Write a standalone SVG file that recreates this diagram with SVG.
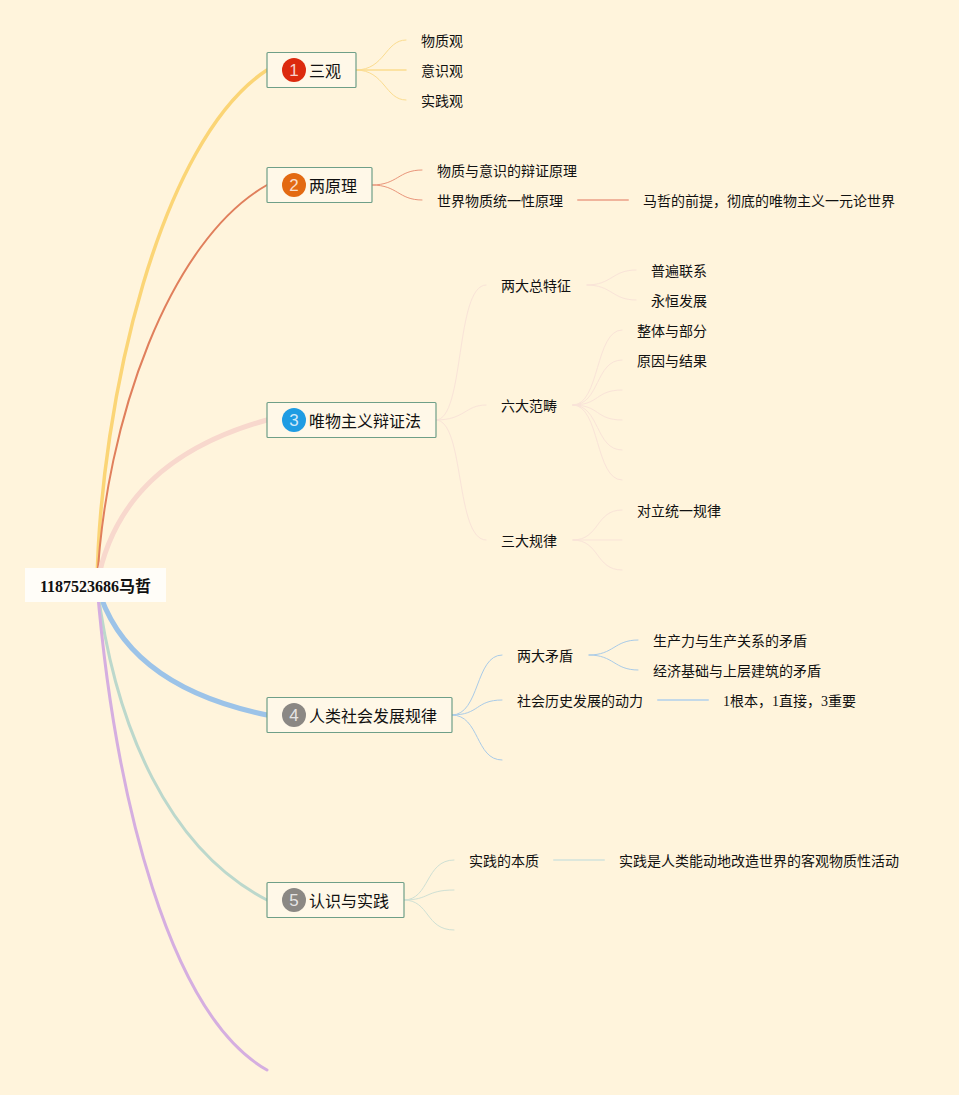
<svg xmlns="http://www.w3.org/2000/svg" width="959" height="1095" viewBox="0 0 959 1095">
<style>
text{font-family:"Liberation Serif","Noto Sans CJK SC",serif;fill:#111}
.l{font-size:14px}
.t{font-size:16px}
.r{font-size:16px;font-weight:700}
.n{fill:#fff8e8;stroke:#6f9f88;stroke-width:1.2}
.i{font-family:"Liberation Sans",sans-serif;font-size:17px;fill:#fff;fill-opacity:.8;text-anchor:middle}
#connectors path{fill:none;stroke-linecap:round}
.y{stroke:#fbdc8f;stroke-width:1}
.o{stroke:#e9957a;stroke-width:1}
.p{stroke:#f9e3d8;stroke-width:1}
.b{stroke:#a9cbe8;stroke-width:1}
.g{stroke:#cfe0d4;stroke-width:1}
</style>
<rect width="959" height="1095" fill="#fff4dc"/>
<g id="connectors">
<path d="M97 585C100 400 160 140 267 70" stroke="#fbd576" stroke-width="3.500"/>
<path d="M97 585C105 420 170 240 267 185" stroke="#e07f5c" stroke-width="2"/>
<path d="M97 585C112 500 170 447 267 420" stroke="#f8d8cd" stroke-width="5"/>
<path d="M97 585C115 650 170 695 267 715" stroke="#9cc3e8" stroke-width="5"/>
<path d="M97 585C115 730 170 850 267 900" stroke="#bcd8cc" stroke-width="3"/>
<path d="M97 585C115 800 170 1015 267 1070" stroke="#d5aee0" stroke-width="3"/>
<path class="y" d="M356 70C385 70 385 40 406 40"/>
<path class="y" d="M356 70H406" style="stroke-width:1.500"/>
<path class="y" d="M356 70C385 70 385 100 406 100"/>
<path class="o" d="M372 185C398 185 398 170 422 170"/>
<path class="o" d="M372 185C398 185 398 200 422 200"/>
<path class="o" d="M578 200H628" style="stroke-width:2;stroke:#f0b49c"/>
<path class="p" d="M436 420C465 420 455 285 486 285"/>
<path class="p" d="M436 420C465 420 465 405 486 405"/>
<path class="p" d="M436 420C465 420 455 540 486 540"/>
<path class="p" d="M587 285C612 285 612 270 636 270"/>
<path class="p" d="M587 285C612 285 612 300 636 300"/>
<path class="p" d="M573 405C600 405 595 330 622 330"/>
<path class="p" d="M573 405C600 405 595 360 622 360"/>
<path class="p" d="M573 405C600 405 595 390 622 390"/>
<path class="p" d="M573 405C600 405 595 420 622 420"/>
<path class="p" d="M573 405C600 405 595 450 622 450"/>
<path class="p" d="M573 405C600 405 595 480 622 480"/>
<path class="p" d="M573 540C600 540 595 510 622 510"/>
<path class="p" d="M573 540H622"/>
<path class="p" d="M573 540C600 540 595 570 622 570"/>
<path class="b" d="M452 715C480 715 475 655 502 655"/>
<path class="b" d="M452 715C480 715 475 700 502 700"/>
<path class="b" d="M452 715C480 715 475 760 502 760"/>
<path class="b" d="M589 655C614 655 614 640 638 640"/>
<path class="b" d="M589 655C614 655 614 670 638 670"/>
<path class="b" d="M658 700H708" style="stroke-width:2;stroke:#c4d9e8"/>
<path class="g" d="M404 900C430 900 425 860 454 860"/>
<path class="g" d="M404 900C430 900 425 890 454 890"/>
<path class="g" d="M404 900C430 900 425 930 454 930"/>
<path class="g" d="M554 860H604" style="stroke-width:2;stroke:#dde7dc"/>
</g>
<g id="root"><rect x="25" y="568" width="141" height="34" fill="#fffdf8"/><text class="r" x="40" y="592">1187523686马哲</text></g>
<g id="n1"><rect class="n" x="267" y="52.500" width="89" height="35" rx="1"/><circle cx="294" cy="70" r="12" fill="#dc2a0e"/><text class="i" x="294" y="76">1</text><text class="t" x="309" y="77">三观</text></g>
<g id="n1a"><text class="l" x="421" y="46">物质观</text></g>
<g id="n1b"><text class="l" x="421" y="76">意识观</text></g>
<g id="n1c"><text class="l" x="421" y="106">实践观</text></g>
<g id="n2"><rect class="n" x="267" y="167.500" width="105" height="35" rx="1"/><circle cx="294" cy="185" r="12" fill="#e36a12"/><text class="i" x="294" y="191">2</text><text class="t" x="309" y="192">两原理</text></g>
<g id="n2a"><text class="l" x="437" y="176">物质与意识的辩证原理</text></g>
<g id="n2b"><text class="l" x="437" y="206">世界物质统一性原理</text></g>
<g id="n2c"><text class="l" x="643" y="206">马哲的前提，彻底的唯物主义一元论世界</text></g>
<g id="n3"><rect class="n" x="267" y="402.500" width="169" height="35" rx="1"/><circle cx="294" cy="420" r="12" fill="#1f9ce3"/><text class="i" x="294" y="426">3</text><text class="t" x="309" y="427">唯物主义辩证法</text></g>
<g id="n3a"><text class="l" x="501" y="291">两大总特征</text></g>
<g id="n3a1"><text class="l" x="651" y="276">普遍联系</text></g>
<g id="n3a2"><text class="l" x="651" y="306">永恒发展</text></g>
<g id="n3b"><text class="l" x="501" y="411">六大范畴</text></g>
<g id="n3b1"><text class="l" x="637" y="336">整体与部分</text></g>
<g id="n3b2"><text class="l" x="637" y="366">原因与结果</text></g>
<g id="n3c"><text class="l" x="501" y="546">三大规律</text></g>
<g id="n3c1"><text class="l" x="637" y="516">对立统一规律</text></g>
<g id="n4"><rect class="n" x="267" y="697.500" width="185" height="35" rx="1"/><circle cx="294" cy="715" r="12" fill="#8b8884"/><text class="i" x="294" y="721">4</text><text class="t" x="309" y="722">人类社会发展规律</text></g>
<g id="n4a"><text class="l" x="517" y="661">两大矛盾</text></g>
<g id="n4a1"><text class="l" x="653" y="646">生产力与生产关系的矛盾</text></g>
<g id="n4a2"><text class="l" x="653" y="676">经济基础与上层建筑的矛盾</text></g>
<g id="n4b"><text class="l" x="517" y="706">社会历史发展的动力</text></g>
<g id="n4b1"><text class="l" x="723" y="706">1根本，1直接，3重要</text></g>
<g id="n5"><rect class="n" x="267" y="882.500" width="137" height="35" rx="1"/><circle cx="294" cy="900" r="12" fill="#8b8884"/><text class="i" x="294" y="906">5</text><text class="t" x="309" y="907">认识与实践</text></g>
<g id="n5a"><text class="l" x="469" y="866">实践的本质</text></g>
<g id="n5a1"><text class="l" x="619" y="866">实践是人类能动地改造世界的客观物质性活动</text></g>
</svg>
